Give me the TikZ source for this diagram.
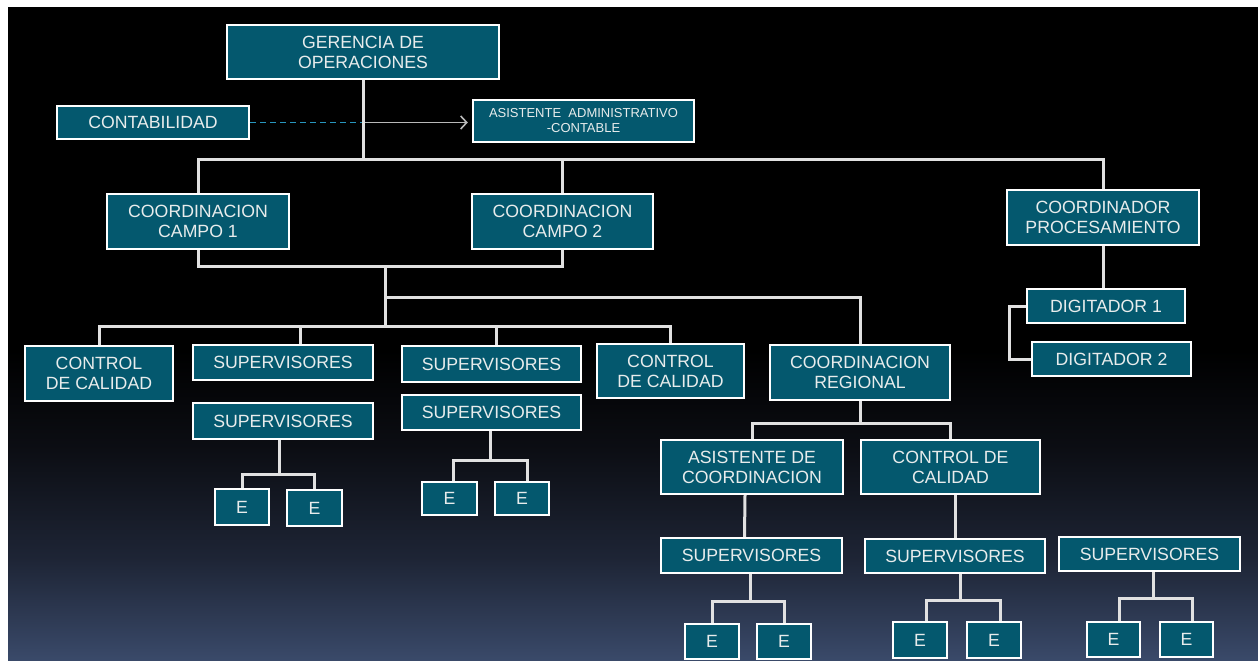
\documentclass[tikz,border=0pt]{standalone}
\usepackage{fontspec}
\setmainfont{Liberation Sans}
\usetikzlibrary{arrows.meta}
\definecolor{boxfill}{RGB}{4,88,110}
\definecolor{boxtext}{RGB}{232,236,236}
\definecolor{wire}{RGB}{225,225,225}
\definecolor{dashwire}{RGB}{40,150,190}
\definecolor{arrowgray}{RGB}{185,185,185}
\definecolor{bgA}{RGB}{12,14,20}
\definecolor{bgB}{RGB}{30,37,54}
\definecolor{bgC}{RGB}{58,74,106}
\begin{document}
\begin{tikzpicture}[x=1pt,y=-1pt,
  orgbox/.style={draw=white, line width=2.4pt, fill=boxfill, text=boxtext,
    inner sep=0pt, align=center, font=\fontsize{17.7}{20}\selectfont},
  smallbox/.style={orgbox, font=\fontsize{13}{15}\selectfont},
  link/.style={draw=wire, line width=3pt},
]
\useasboundingbox (0,0) rectangle (1258,661);
% page margin and background gradient
\fill[white] (0,0) rectangle (1258,661);
\fill[black] (8,7) rectangle (1258,351);
\shade[top color=black, bottom color=bgA] (8,350) rectangle (1258,451);
\shade[top color=bgA, bottom color=bgB] (8,450) rectangle (1258,561);
\shade[top color=bgB, bottom color=bgC] (8,560) rectangle (1258,661);

% top level
\node[orgbox, minimum width=272pt, minimum height=54pt] (ger) at (363,52) {GERENCIA DE\\OPERACIONES};
\node[orgbox, minimum width=192pt, minimum height=33pt] (cont) at (153,122.5) {CONTABILIDAD};
\node[smallbox, minimum width=221pt, minimum height=42pt] (asis) at (583.5,121) {ASISTENTE\ \ ADMINISTRATIVO\\-CONTABLE};

% coordinations
\node[orgbox, minimum width=182pt, minimum height=55pt] (cc1) at (198,221.5) {COORDINACION\\CAMPO 1};
\node[orgbox, minimum width=181pt, minimum height=55pt] (cc2) at (562.5,221.5) {COORDINACION\\CAMPO 2};
\node[orgbox, minimum width=192pt, minimum height=55pt] (proc) at (1103,217.5) {COORDINADOR\\PROCESAMIENTO};
\node[orgbox, minimum width=158pt, minimum height=34pt] (dig1) at (1106,306) {DIGITADOR 1};
\node[orgbox, minimum width=159pt, minimum height=34pt] (dig2) at (1111.5,359) {DIGITADOR 2};

% field level
\node[orgbox, minimum width=148pt, minimum height=55pt] (cal1) at (99,373.5) {CONTROL\\DE CALIDAD};
\node[orgbox, minimum width=180pt, minimum height=35pt] (sup1) at (283,362.5) {SUPERVISORES};
\node[orgbox, minimum width=180pt, minimum height=36pt] (sup2) at (283,421) {SUPERVISORES};
\node[orgbox, minimum width=54pt, minimum height=36pt] (e1) at (242,507) {E};
\node[orgbox, minimum width=55pt, minimum height=36pt] (e2) at (314.5,508) {E};
\node[orgbox, minimum width=179pt, minimum height=36pt] (sup3) at (491.5,364) {SUPERVISORES};
\node[orgbox, minimum width=179pt, minimum height=35pt] (sup4) at (491.5,412.5) {SUPERVISORES};
\node[orgbox, minimum width=55pt, minimum height=33pt] (e3) at (449.5,498.5) {E};
\node[orgbox, minimum width=54pt, minimum height=33pt] (e4) at (522,498.5) {E};
\node[orgbox, minimum width=147pt, minimum height=54pt] (cal2) at (670.5,371) {CONTROL\\DE CALIDAD};
\node[orgbox, minimum width=180pt, minimum height=55pt] (reg) at (860,372.5) {COORDINACION\\REGIONAL};

% regional level
\node[orgbox, minimum width=182pt, minimum height=54pt] (asc) at (752,467) {ASISTENTE DE\\COORDINACION};
\node[orgbox, minimum width=179pt, minimum height=54pt] (cal3) at (950.5,467) {CONTROL DE\\CALIDAD};
\node[orgbox, minimum width=181pt, minimum height=35pt] (sup5) at (751.5,555.5) {SUPERVISORES};
\node[orgbox, minimum width=180pt, minimum height=34pt] (sup6) at (955,556) {SUPERVISORES};
\node[orgbox, minimum width=181pt, minimum height=34pt] (sup7) at (1149.5,554) {SUPERVISORES};
\node[orgbox, minimum width=54pt, minimum height=35pt] (e5) at (712,641.5) {E};
\node[orgbox, minimum width=54pt, minimum height=35pt] (e6) at (784,641.5) {E};
\node[orgbox, minimum width=54pt, minimum height=36pt] (e7) at (920,640) {E};
\node[orgbox, minimum width=54pt, minimum height=36pt] (e8) at (994,640) {E};
\node[orgbox, minimum width=53pt, minimum height=35pt] (e9) at (1113.5,639.5) {E};
\node[orgbox, minimum width=53pt, minimum height=35pt] (e10) at (1186.5,639.5) {E};

% junction points
\coordinate (j1) at (363,159);
\coordinate (j2) at (385,266);
\coordinate (j3) at (385,297);
\coordinate (j4) at (385,326);
\coordinate (j5) at (279,474);
\coordinate (j6) at (490,460);
\coordinate (j7) at (860,423);
\coordinate (j8) at (750,601);
\coordinate (j9) at (960,600);
\coordinate (j10) at (1153,598);

% staff links
\draw[dashwire, line width=1.6pt, dash pattern=on 6pt off 4pt] (cont.east) -- (cont.east -| ger.south);
\draw[arrowgray, line width=1.6pt, -{Straight Barb[length=6pt,width=13pt]}, shorten >=4pt]
  (cont.east -| ger.south) -- (asis.west |- cont.east);

% hierarchy links
\draw[link] (ger.south) -- (j1);
\draw[link] (cc1.north) |- (j1) -| (proc.north);
\draw[link] (cc2.north) -- (cc2.north |- j1);
\draw[link] (cc1.south) |- (j2) -| (cc2.south);
\draw[link] (j2) -- (j4);
\draw[link] (cal1.north) |- (j4) -| (cal2.north);
\draw[link] ([xshift=17pt]sup1.north) -- ([xshift=17pt]sup1.north |- j4);
\draw[link] ([xshift=4.5pt]sup3.north) -- ([xshift=4.5pt]sup3.north |- j4);
\draw[link] (j3) -| (reg.north);
\draw[link] (sup2.south -| j5) -- (j5);
\draw[link] (e1.north) |- (j5) -| (e2.north);
\draw[link] (sup4.south -| j6) -- (j6);
\draw[link] ([xshift=3.5pt]e3.north) |- (j6) -| ([xshift=5pt]e4.north);
\draw[link] (reg.south) -- (j7);
\draw[link] (asc.north) |- (j7) -| (cal3.north);
\draw[link] ([xshift=-7pt]asc.south) -- ([xshift=-7pt]sup5.north);
\draw[link] (cal3.south -| sup6.north) -- (sup6.north);
\draw[link] (sup5.south -| j8) -- (j8);
\draw[link] (e5.north) |- (j8) -| (e6.north);
\draw[link] (sup6.south -| j9) -- (j9);
\draw[link] ([xshift=6pt]e7.north) |- (j9) -| ([xshift=6pt]e8.north);
\draw[link] (sup7.south -| j10) -- (j10);
\draw[link] ([xshift=6pt]e9.north) |- (j10) -| ([xshift=6pt]e10.north);
\draw[link] (proc.south) -- (proc.south |- dig1.north);
\draw[link] (dig1.west) -- ++(-16,0) |- (dig2.west);
\end{tikzpicture}
\end{document}
